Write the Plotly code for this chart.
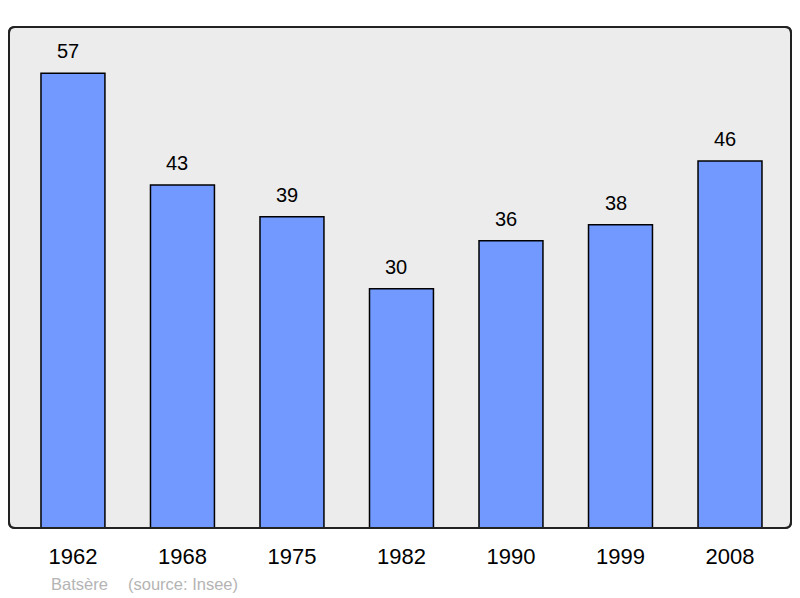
import plotly.graph_objects as go

years = ["1962", "1968", "1975", "1982", "1990", "1999", "2008"]
population = [57, 43, 39, 30, 36, 38, 46]

FONT = "Liberation Sans, Arial"

fig = go.Figure()
fig.add_trace(go.Bar(
    x=list(range(len(years))), y=population,
    width=0.584,
    marker=dict(color="#7299ff", line=dict(color="#000000", width=1.5)),
    hoverinfo="skip",
))

for i, v in enumerate(population):
    fig.add_annotation(x=i, y=v, text=str(v), showarrow=False,
                       yanchor="bottom", yshift=9, xshift=-5,
                       font=dict(family=FONT, size=20, color="#000"))

# rounded frame
W, H = 782.0, 501.0
r = 6.0
rx, ry = r / W, r / H
path = (f"M {rx},0 L {1-rx},0 Q 1,0 1,{ry} L 1,{1-ry} Q 1,1 {1-rx},1 "
        f"L {rx},1 Q 0,1 0,{1-ry} L 0,{ry} Q 0,0 {rx},0 Z")
fig.add_shape(type="path", path=path, xref="paper", yref="paper",
              fillcolor="#ececec", line=dict(color="#222222", width=2), layer="below")
fig.add_shape(type="path", path=path, xref="paper", yref="paper",
              fillcolor="rgba(0,0,0,0)", line=dict(color="#222222", width=2), layer="above")

fig.add_annotation(xref="paper", yref="paper", x=(49 - 9) / W, y=-(584 - 528) / H,
                   xanchor="left", yanchor="middle", showarrow=False,
                   text="Batsère",
                   font=dict(family=FONT, size=16.5, color="#b4b4b4"))
fig.add_annotation(xref="paper", yref="paper", x=(126 - 9) / W, y=-(584 - 528) / H,
                   xanchor="left", yanchor="middle", showarrow=False,
                   text="(source: Insee)",
                   font=dict(family=FONT, size=16.5, color="#b4b4b4"))

fig.update_layout(
    width=800, height=598,
    margin=dict(l=9, r=9, t=27, b=70),
    paper_bgcolor="white", plot_bgcolor="rgba(0,0,0,0)",
    showlegend=False,
    xaxis=dict(range=[-0.584, 6.557], tickmode="array",
               tickvals=list(range(len(years))), ticktext=years,
               showgrid=False, zeroline=False, showline=False,
               ticks="outside", ticklen=9, tickcolor="rgba(0,0,0,0)",
               tickfont=dict(family=FONT, size=22, color="#000")),
    yaxis=dict(range=[0, 62.8], showgrid=False, zeroline=False,
               showticklabels=False, showline=False),
)

fig.write_html("out.html", config={"displayModeBar": False},
               post_script="document.body.style.margin='0';")
